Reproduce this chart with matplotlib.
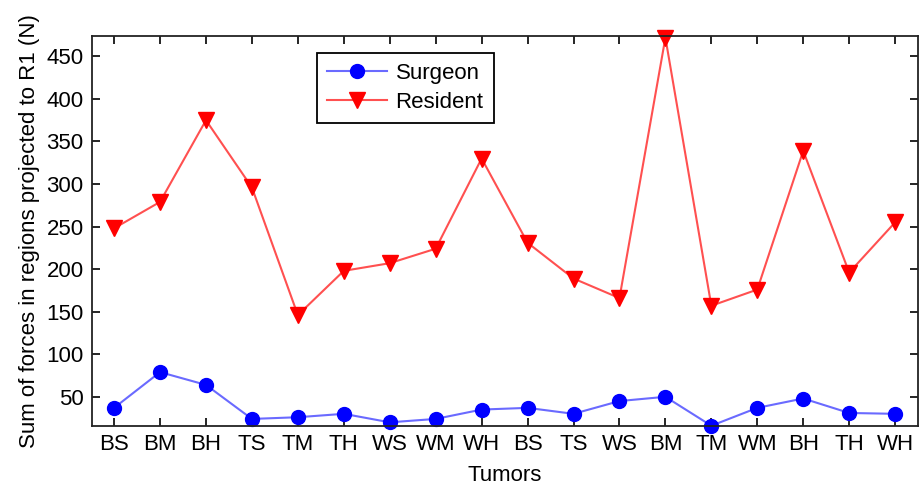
import numpy as np
import matplotlib.pyplot as plt

plt.rcParams['font.family'] = ['Liberation Sans', 'DejaVu Sans']

# tumor categories along the x axis
tumors = ["BS", "BM", "BH", "TS", "TM", "TH", "WS", "WM", "WH",
          "BS", "TS", "WS", "BM", "TM", "WM", "BH", "TH", "WH"]

surgeon = [37, 79, 64, 24, 26, 30, 20, 24, 35,
           37, 30, 45, 50, 16, 37, 48, 31, 30]
resident = [248, 279, 375, 296, 146, 198, 207, 224, 330,
            231, 189, 166, 472, 157, 176, 339, 196, 255]

x = np.arange(len(tumors))
fs = 16

fig = plt.figure(figsize=(9.24, 4.86), dpi=100)
ax = fig.add_axes([0.0996, 0.124, 0.894, 0.802])

ax.plot(x, surgeon, color="#6a6aff", lw=1.5, marker="o", ms=10,
        mfc="#0000ff", mec="#0000ff", label="Surgeon", clip_on=False)
ax.plot(x, resident, color="#ff5050", lw=1.5, marker="v", ms=11,
        mfc="#ff0000", mec="#ff0000", label="Resident", clip_on=False)

ax.set_xlim(-0.48, 17.5)
ax.set_ylim(16, 474)
ax.set_xticks(x)
ax.set_xticklabels(tumors)
ax.set_yticks(np.arange(50, 451, 50))

ax.tick_params(direction="in", length=6, width=1.2, top=True, right=True,
               labelsize=fs, pad=6)
for s in ax.spines.values():
    s.set_linewidth(1.3)
    s.set_color("#222222")

ax.set_xlabel("Tumors", fontsize=fs, labelpad=7)
ax.set_ylabel("Sum of forces in regions projected to R1 (N)", fontsize=fs, labelpad=5)

leg = ax.legend(loc="upper left", bbox_to_anchor=(0.272, 0.957), borderaxespad=0,
                fontsize=fs, fancybox=False, edgecolor="black", framealpha=1,
                handlelength=2.7, handletextpad=0.4, borderpad=0.45,
                labelspacing=0.35)
leg.get_frame().set_linewidth(1.3)

fig.savefig("out.png", dpi=100)
